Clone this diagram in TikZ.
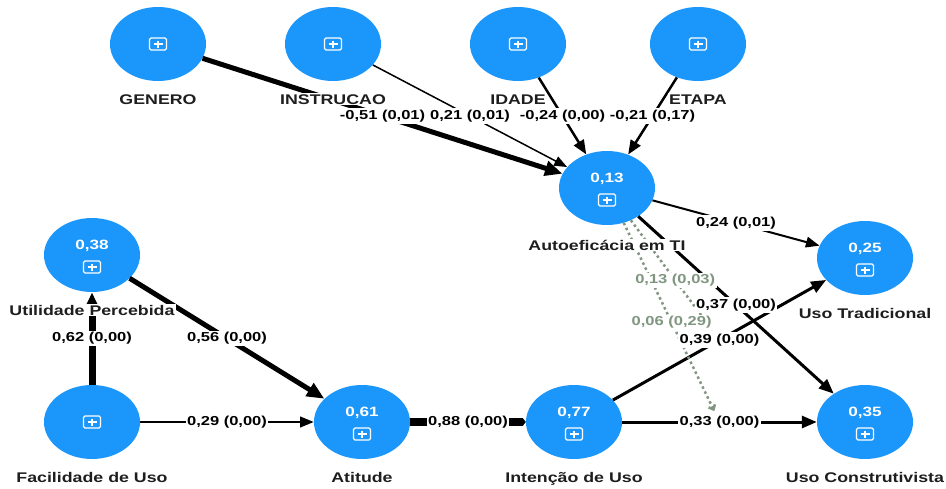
\documentclass[tikz,border=0pt]{standalone}
\usepackage{fontspec}
\setmainfont{Liberation Sans}[FakeStretch=1.27]
\usetikzlibrary{shapes.geometric,arrows.meta,calc}

\definecolor{lvblue}{RGB}{27,150,250}
\definecolor{modgray}{RGB}{128,150,128}
\definecolor{namegray}{RGB}{30,30,30}

\tikzset{
  plusicon/.pic={
    \draw[white,line width=1.1pt,rounded corners=1.5pt] (-8.5,-6) rectangle (8.5,6);
    \draw[white,line width=1.1pt] (-4.5,0) -- (4.5,0) (0,-3.5) -- (0,3.5);
  }
}

\begin{document}
\begin{tikzpicture}[x=1pt,y=-1pt,
  lv/.style={ellipse,fill=lvblue,minimum width=96pt,minimum height=74pt,inner sep=0pt},
  lvval/.style={anchor=base,text=white,font=\fontsize{13.5pt}{15pt}\selectfont\bfseries},
  lvname/.style={anchor=base,fill=white,inner sep=1pt,text=namegray,font=\fontsize{14pt}{16pt}\selectfont\bfseries},
  link/.style={draw,-{Triangle[length=11pt 1.3,width=8pt 1.3]}},
  coef/.style={fill=white,inner sep=1.5pt,font=\fontsize{13pt}{15pt}\selectfont\bfseries},
  mod/.style={draw=modgray,line width=2.5pt,dash pattern=on 2.5pt off 3pt,-{Straight Barb[length=4pt,width=7pt]},shorten >=12pt},
  modcoef/.style={coef,text=modgray}]
\useasboundingbox (0,0) rectangle (946,488);

% latent variables
\node[lv] (gen) at (158,44) {};
\node[lv] (ins) at (333,44) {};
\node[lv] (ida) at (518,44) {};
\node[lv] (eta) at (698,44) {};
\node[lv] (autoef) at (607,188) {};
\node[lv] (util) at (92,255) {};
\node[lv] (ut) at (865,258) {};
\node[lv] (fac) at (92,422) {};
\node[lv] (ati) at (362,422) {};
\node[lv] (int) at (574,422) {};
\node[lv] (uc) at (865,422) {};

% structural paths
\draw[link,line width=5pt] (gen) -- coordinate[midway] (cgen) (autoef);
\draw[link,line width=1.5pt] (ins) -- coordinate[midway] (cins) (autoef);
\draw[link,line width=2.5pt] (ida) -- coordinate[midway] (cida) (autoef);
\draw[link,line width=2.5pt] (eta) -- coordinate[midway] (ceta) (autoef);
\draw[link,line width=2pt] (autoef) -- coordinate[midway] (cut) (ut);
\draw[link,line width=3pt] (autoef) -- coordinate[midway] (cuc) (uc);
\draw[link,line width=7pt] (fac) -- coordinate[midway] (cutil) (util);
\draw[link,line width=5pt] (util) -- coordinate[midway] (cati) (ati);
\draw[link,line width=2pt] (fac) -- coordinate[midway] (cfac) (ati);
\draw[line width=7.5pt,-{Triangle[length=3pt,width=7.5pt]}] (ati) -- coordinate[midway] (catt) (int);
\draw[link,line width=3pt] (int) -- coordinate[midway] (cintut) (ut);
\draw[link,line width=3pt] (int) -- coordinate[midway] (cintuc) (uc);

% moderating effects
\coordinate (mut) at ($(int)!0.5!(ut)$);
\coordinate (muc) at ($(int)!0.5!(uc)$);
\draw[mod] (autoef) -- coordinate[midway] (cmodut) (mut);
\draw[mod] (autoef) -- coordinate[midway] (cmoduc) (muc);

% icons and R2 values
\foreach \n in {gen,ins,ida,eta}
  \pic at (\n) {plusicon};
\foreach \n in {autoef,util,ut,ati,int,uc}
  \pic at ([yshift=-12pt]\n.center) {plusicon};
\pic at (fac) {plusicon};
\node[lvval] (autoefval) at ([yshift=6pt]autoef.center) {0,13};
\node[lvval] (utilval) at ([yshift=6pt]util.center) {0,38};
\node[lvval] (utval) at ([yshift=6pt]ut.center) {0,25};
\node[lvval] (atival) at ([yshift=6pt]ati.center) {0,61};
\node[lvval] (intval) at ([yshift=6pt]int.center) {0,77};
\node[lvval] (ucval) at ([yshift=6pt]uc.center) {0,35};

% names
\node[lvname] (genname) at ([yshift=-60pt]gen.center) {GENERO};
\node[lvname] (insname) at ([yshift=-60pt]ins.center) {INSTRUCAO};
\node[lvname] (idaname) at ([yshift=-60pt]ida.center) {IDADE};
\node[lvname] (etaname) at ([yshift=-60pt]eta.center) {ETAPA};
\node[lvname] (autoefname) at ([yshift=-62pt]autoef.center) {Autoeficácia em TI};
\node[lvname] (utilname) at ([yshift=-60pt]util.center) {Utilidade Percebida};
\node[lvname] (utname) at ([yshift=-60pt]ut.center) {Uso Tradicional};
\node[lvname] (facname) at ([yshift=-60pt]fac.center) {Facilidade de Uso};
\node[lvname] (atiname) at ([yshift=-60pt]ati.center) {Atitude};
\node[lvname] (intname) at ([yshift=-60pt]int.center) {Intenção de Uso};
\node[lvname] (ucname) at ([yshift=-60pt]uc.center) {Uso Construtivista};

% path coefficients (p values)
\node[coef] at (cgen) {-0,51 (0,01)};
\node[coef] at (cins) {0,21 (0,01)};
\node[coef] at (cida) {-0,24 (0,00)};
\node[coef] at (ceta) {-0,21 (0,17)};
\node[coef] at (cut) {0,24 (0,01)};
\node[coef] at (cuc) {0,37 (0,00)};
\node[coef] at (cutil) {0,62 (0,00)};
\node[coef] at (cati) {0,56 (0,00)};
\node[coef] at (cfac) {0,29 (0,00)};
\node[coef] at (catt) {0,88 (0,00)};
\node[coef] at (cintut) {0,39 (0,00)};
\node[coef] at (cintuc) {0,33 (0,00)};
\node[modcoef] at (cmodut) {0,13 (0,03)};
\node[modcoef] at (cmoduc) {0,06 (0,29)};
\end{tikzpicture}
\end{document}
